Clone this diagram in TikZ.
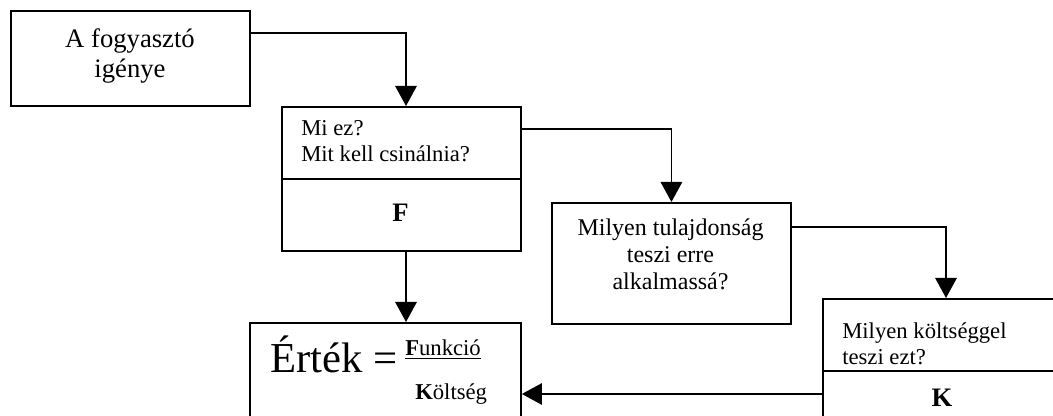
\documentclass[tikz,border=0pt]{standalone}
\usepackage{fontspec}
\setmainfont{Liberation Serif}
\usetikzlibrary{arrows.meta,calc}
\begin{document}
\begin{tikzpicture}[x=0.75pt,y=-0.75pt,
  box/.style={draw,line width=1.4pt,inner sep=0pt,anchor=north west},
  conn/.style={line width=1.4pt,-{Triangle[length=15pt,width=16pt]}},
  txt/.style={inner sep=0pt,font=\fontsize{17}{19.5}\selectfont},
  letter/.style={inner sep=0pt,font=\fontsize{20}{22}\selectfont\bfseries}]
\clip (0,0) rectangle (1053,416);
\fill[white] (0,0) rectangle (1053,416);

% boxes
\node[box,minimum width=239*0.75pt,minimum height=95*0.75pt] (b1) at (10,10) {};
\node[box,minimum width=239*0.75pt,minimum height=72*0.75pt] (b2top) at (281,106) {};
\node[box,minimum width=239*0.75pt,minimum height=72*0.75pt] (b2bot) at (281,178) {};
\node[box,minimum width=239*0.75pt,minimum height=121*0.75pt] (b3) at (551,202) {};
\node[box,minimum width=238*0.75pt,minimum height=72*0.75pt] (b4top) at (822,298) {};
\node[box,minimum width=238*0.75pt,minimum height=60*0.75pt] (b4bot) at (822,370) {};
\node[box,minimum width=271*0.75pt,minimum height=108*0.75pt] (val) at (249,322) {};

% box texts
\node[inner sep=0pt,align=center,font=\fontsize{20}{22.5}\selectfont] (t1) at (130,56) {A fogyasztó\\igénye};
\node[txt,align=left,anchor=west] (t2) at (301,141) {Mi ez?\\Mit kell csinálnia?};
\node[letter] (f) at (400.5,213) {F};
\node[inner sep=0pt,align=center,font=\fontsize{18}{20.25}\selectfont] (t3) at (670.5,254) {Milyen tulajdonság\\teszi erre\\alkalmassá?};
\node[txt,align=left,anchor=west] (t4) at (842,344) {Milyen költséggel\\teszi ezt?};
\node[letter] (k) at (942,398) {K};

% value formula
\node[inner sep=0pt,anchor=base west,font=\fontsize{32}{36}\selectfont] (ert) at (270,373) {Érték =};
\node[txt,anchor=base west] (fun) at (405,356) {\underline{\textbf{F}unkció}};
\node[txt,anchor=base west] (kol) at (415,400) {\textbf{K}öltség};

% connectors
\draw[conn] ($(b1.north east)+(0,23)$) -| ($(b2top.north west)+(125,0)$);
\draw[conn] ($(b2top.north east)+(0,23)$) -| (b3.north);
\draw[conn] ($(b3.north east)+(0,25)$) -| ($(b4top.north west)+(124,0)$);
\draw[conn] ($(b2bot.south west)+(125,0)$) -- ($(val.north west)+(157,0)$);
\draw[conn] ($(b4bot.north west)+(0,24)$) -- ($(val.north east)+(0,72)$);
\end{tikzpicture}
\end{document}
